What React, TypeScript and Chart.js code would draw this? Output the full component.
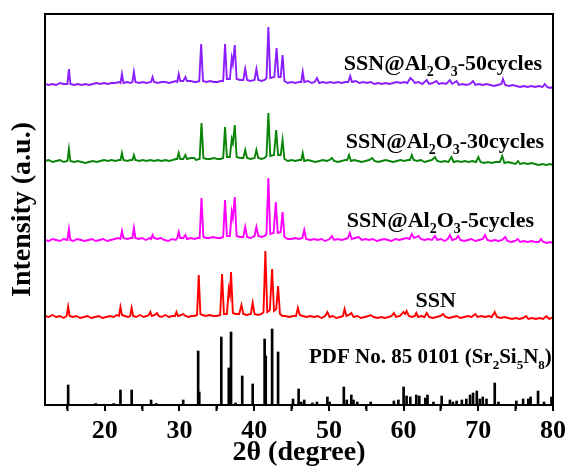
import { useEffect, useRef } from 'react';
import { Chart, registerables } from 'chart.js';

Chart.register(...registerables);

const FONT = '"Liberation Serif", "Times New Roman", serif';
const X_MIN = 12;
const X_MAX = 80;
const Y_MAX = 391;
const X_MAJOR = [20, 30, 40, 50, 60, 70, 80];
const X_MINOR = [15, 25, 35, 45, 55, 65, 75];

// [2θ, intensity above the trace's own baseline] (a.u.)
const SSN: [number, number][] = [
  [12, 1], [12.5, 0], [13, 2], [13.5, 0], [14, 1], [14.5, -1], [14.9, 1], [15.1, 10.5], [15.3, 1], [15.7, 0],
  [16.2, 1], [16.7, -1], [17.2, 0], [17.7, 1], [18.2, -1], [18.7, 0], [19.2, 1], [19.7, -1], [20.2, 0], [20.7, 1],
  [21.2, 0], [21.6, 2], [21.9, 1], [22.1, 10], [22.3, 2], [22.7, 1], [23.1, 0], [23.4, 1], [23.6, 9], [23.8, 1],
  [24.2, 0], [24.7, 2], [25.2, 0], [25.6, 1], [25.9, 2], [26.1, 5], [26.3, 1], [26.7, 2], [27.0, 4], [27.2, 1],
  [27.6, 0], [28.1, 2], [28.6, 0], [29.0, 1], [29.4, 1], [29.6, 5], [29.8, 1], [30.2, 2], [30.5, 3], [30.8, 1],
  [31.2, 0], [31.6, 1], [32.0, 1], [32.35, 2], [32.58, 42], [32.8, 3], [33.1, 2], [33.5, 1], [34.0, 2], [34.5, 1],
  [35.0, 1], [35.45, 2], [35.7, 43], [35.95, 3], [36.35, 3], [36.6, 28], [36.75, 22], [36.9, 45], [37.15, 4], [37.5, 3],
  [38.0, 3], [38.3, 12], [38.55, 3], [39.0, 2], [39.55, 3], [39.8, 14], [40.05, 3], [40.5, 2], [41.0, 3], [41.25, 5],
  [41.5, 66], [41.75, 5], [42.1, 7], [42.4, 48], [42.65, 6], [42.95, 8], [43.2, 31], [43.45, 3], [43.8, 1], [44.2, 1],
  [44.7, 0], [45.2, 1], [45.6, 1], [45.85, 9], [46.1, 2], [46.5, 1], [47.0, 0], [47.5, 1], [48.0, 0], [48.5, 1],
  [49.0, -1], [49.5, 1], [49.8, 5], [50.1, 0], [50.5, 1], [51.0, -1], [51.5, 0], [51.9, 1], [52.1, 8], [52.35, 1],
  [52.7, 2], [53.0, 4], [53.3, 0], [53.8, 1], [54.3, -1], [54.8, 0], [55.3, 1], [55.6, 2], [56.0, 0], [56.5, -1],
  [57.0, 0], [57.5, -1], [58.0, 0], [58.4, 1], [58.7, 4], [59.0, 0], [59.5, 1], [60.0, 5], [60.2, 3], [60.4, 6],
  [60.7, 1], [61.1, 0], [61.5, 1], [61.7, 4], [61.95, 0], [62.4, 1], [62.8, 0], [63.1, 4], [63.4, 0], [63.9, -1],
  [64.4, 0], [64.9, 1], [65.3, 3], [65.6, 0], [66.1, -1], [66.6, 0], [67.1, 1], [67.6, -1], [68.1, 0], [68.6, 1],
  [69.1, 0], [69.6, 3], [69.9, 0], [70.4, 1], [70.9, 0], [71.4, 1], [71.8, 0], [72.2, 5], [72.5, 0], [73.0, -1],
  [73.5, 0], [74.0, -1], [74.5, -2], [75.0, -1], [75.5, -2], [76.0, -1], [76.4, 1], [76.7, -2], [77.2, -1], [77.7, -2],
  [78.2, -1], [78.7, -2], [79.1, 1], [79.5, -2], [80.0, 0],
];

const C5: [number, number][] = [
  [12, 0], [12.5, -1], [13, 1], [13.5, 0], [14, -1], [14.5, 1], [15.0, 0], [15.2, 11], [15.4, 0], [15.8, -1],
  [16.3, 1], [16.8, 0], [17.3, -1], [17.8, 0], [18.3, 1], [18.8, -1], [19.3, 0], [19.8, 1], [20.3, -1], [20.8, 0],
  [21.3, 1], [21.8, 2], [22.1, 1], [22.3, 9], [22.5, 2], [23.0, 1], [23.5, 2], [23.7, 2], [23.9, 12], [24.1, 2],
  [24.5, 1], [25.0, 2], [25.5, 0], [26.0, 2], [26.2, 1], [26.4, 5], [26.6, 2], [27.0, 1], [27.5, 2], [28.0, 0],
  [28.5, -1], [29.0, 1], [29.5, 0], [29.7, 2], [29.9, 8], [30.1, 2], [30.5, 2], [30.8, 5], [31.0, 1], [31.5, 2],
  [32.0, 1], [32.4, 2], [32.7, 2], [32.95, 42], [33.2, 3], [33.6, 2], [34.0, 2], [34.5, 3], [35.0, 2], [35.5, 2],
  [35.85, 3], [36.1, 40], [36.35, 4], [36.75, 4], [37.0, 28], [37.15, 22], [37.4, 43], [37.65, 4], [38.1, 3], [38.55, 3],
  [38.8, 13], [39.05, 3], [39.5, 2], [40.05, 4], [40.3, 13], [40.55, 4], [41.0, 3], [41.4, 4], [41.65, 6], [41.9, 62],
  [42.15, 6], [42.6, 7], [42.9, 38], [43.15, 7], [43.55, 8], [43.8, 28], [44.05, 3], [44.5, 1], [45.0, 1], [45.5, 2],
  [46.0, 1], [46.45, 2], [46.7, 10], [46.95, 1], [47.5, 0], [48.0, 1], [48.5, 0], [49.0, 1], [49.5, -1], [50.1, 1],
  [50.4, 4], [50.7, 0], [51.2, 1], [51.7, 0], [52.2, 1], [52.55, 2], [52.8, 7], [53.05, 1], [53.5, 2], [54.0, 3],
  [54.4, 0], [54.9, 1], [55.4, 0], [55.9, 1], [56.4, -1], [56.9, 0], [57.4, 1], [57.9, 0], [58.4, -1], [58.9, 1],
  [59.4, 0], [59.9, 1], [60.4, 2], [60.8, 1], [61.1, 6], [61.4, 2], [62.0, 4], [62.3, 1], [62.8, 0], [63.3, 1],
  [63.8, 0], [64.2, 4], [64.5, 0], [65.0, 1], [65.5, -1], [65.9, 1], [66.2, 5], [66.5, 0], [67.0, 1], [67.3, 4],
  [67.6, 0], [68.1, -1], [68.6, 0], [69.1, 1], [69.6, -1], [70.1, 0], [70.6, 1], [70.9, 5], [71.2, 0], [71.7, -1],
  [72.2, 0], [72.7, -1], [73.2, 0], [73.6, 3], [73.9, -1], [74.4, -2], [74.9, -1], [75.3, 1], [75.6, -2], [76.1, -1],
  [76.6, -2], [77.1, -1], [77.6, -2], [78.1, -2], [78.4, 1], [78.7, -2], [79.2, -3], [79.6, -2], [80.0, -3],
];

const C30: [number, number][] = [
  [12, 0], [12.5, 1], [13, -1], [13.5, 0], [14, 1], [14.5, -1], [15.0, 0], [15.2, 12], [15.4, 0], [15.9, -1],
  [16.4, 0], [16.9, -1], [17.4, -2], [17.9, -1], [18.4, 0], [18.9, -1], [19.4, 0], [19.9, 1], [20.4, 0], [20.9, 1],
  [21.4, 0], [21.9, 1], [22.1, 1], [22.3, 8], [22.5, 1], [23.0, 0], [23.5, 1], [23.7, 1], [23.9, 6], [24.1, 1],
  [24.6, 0], [25.1, 1], [25.6, 0], [26.1, 1], [26.6, 0], [27.1, 1], [27.6, 0], [28.1, 1], [28.6, 0], [29.1, 1],
  [29.5, 2], [29.7, 2], [29.9, 8], [30.1, 2], [30.5, 2], [30.8, 6], [31.0, 2], [31.5, 3], [32.0, 3], [32.2, 1],
  [32.7, 2], [32.95, 38], [33.2, 3], [33.6, 2], [34.1, 2], [34.6, 3], [35.1, 2], [35.5, 2], [35.85, 3], [36.1, 34],
  [36.35, 4], [36.75, 4], [37.0, 22], [37.15, 18], [37.4, 36], [37.65, 4], [38.1, 3], [38.55, 3], [38.8, 11], [39.05, 3],
  [39.5, 2], [40.05, 3], [40.3, 11], [40.55, 3], [41.0, 2], [41.4, 3], [41.65, 5], [41.9, 48], [42.15, 5], [42.65, 6],
  [42.95, 31], [43.2, 6], [43.55, 6], [43.8, 21], [44.05, 2], [44.5, 0], [45.0, 1], [45.5, 0], [46.0, 1], [46.3, 1],
  [46.5, 8], [46.7, 0], [47.2, 1], [47.7, 0], [48.2, -1], [48.7, 0], [49.2, 1], [49.7, 0], [50.1, 1], [50.4, 3],
  [50.7, 0], [51.2, -1], [51.7, 0], [52.2, 1], [52.45, 1], [52.7, 6], [52.95, 0], [53.4, 1], [53.9, 0], [54.4, -1],
  [54.9, 0], [55.4, 1], [55.8, 3], [56.1, 0], [56.6, -1], [57.1, 0], [57.6, 1], [58.1, 0], [58.6, -1], [59.1, 0],
  [59.6, 1], [60.1, 0], [60.6, 1], [60.85, 1], [61.1, 6], [61.35, 1], [61.8, 0], [62.3, 1], [62.8, -1], [63.3, 0],
  [63.8, 1], [64.2, 4], [64.5, 0], [65.0, -1], [65.5, 0], [66.0, -1], [66.4, 4], [66.7, -1], [67.2, 0], [67.7, -1],
  [68.2, 0], [68.7, -1], [69.2, 0], [69.7, -1], [70.0, 4], [70.3, -1], [70.8, -2], [71.3, -1], [71.8, -2], [72.3, -1],
  [72.9, -1], [73.2, 5], [73.5, -2], [74.0, -1], [74.5, -2], [75.0, -3], [75.3, 0], [75.6, -3], [76.1, -2], [76.6, -3],
  [77.1, -2], [77.6, -3], [78.1, -4], [78.6, -3], [79.1, -4], [79.6, -3], [80.0, -4],
];

const C50: [number, number][] = [
  [12, 0], [12.5, -1], [13, 0], [13.5, -1], [14, 1], [14.5, 0], [15.0, 0], [15.2, 15], [15.4, 0], [15.9, -1],
  [16.4, 0], [16.9, -1], [17.4, 0], [17.9, -1], [18.4, 0], [18.9, 1], [19.4, 0], [19.9, 1], [20.4, 0], [20.9, 1],
  [21.4, 1], [21.9, 2], [22.1, 1], [22.3, 10], [22.5, 1], [23.0, 2], [23.5, 1], [23.7, 2], [23.9, 12], [24.1, 2],
  [24.6, 1], [25.1, 2], [25.6, 1], [26.2, 2], [26.4, 7], [26.6, 2], [27.1, 1], [27.6, 2], [28.1, 2], [28.6, 1],
  [29.1, 2], [29.5, 3], [29.7, 2], [29.9, 10], [30.1, 3], [30.5, 3], [30.8, 7], [31.0, 3], [31.5, 3], [32.0, 2],
  [32.3, 2], [32.65, 3], [32.9, 40], [33.15, 3], [33.6, 2], [34.1, 3], [34.6, 2], [35.1, 2], [35.5, 3], [35.85, 3],
  [36.1, 40], [36.35, 5], [36.75, 5], [37.0, 26], [37.15, 20], [37.4, 39], [37.65, 5], [38.1, 4], [38.55, 4], [38.8, 15],
  [39.05, 4], [39.5, 3], [40.05, 4], [40.3, 15], [40.55, 4], [41.0, 3], [41.4, 4], [41.65, 6], [41.9, 57], [42.15, 6],
  [42.7, 7], [43.0, 36], [43.25, 7], [43.55, 7], [43.8, 29], [44.05, 3], [44.5, 1], [45.0, 2], [45.5, 1], [46.0, 2],
  [46.3, 2], [46.5, 12], [46.7, 2], [47.2, 3], [47.7, 1], [48.1, 2], [48.4, 6], [48.7, 1], [49.2, 2], [49.7, 1],
  [50.2, 2], [50.7, 1], [51.2, 2], [51.7, 1], [52.2, 2], [52.6, 2], [52.85, 8], [53.1, 2], [53.6, 3], [54.1, 1],
  [54.6, 2], [55.1, 1], [55.6, 2], [56.1, 0], [56.6, 1], [57.1, 0], [57.6, 1], [58.1, 0], [58.6, 1], [59.1, 2],
  [59.6, 1], [60.1, 2], [60.5, 1], [60.9, 6], [61.2, 4], [61.5, 1], [62.0, 2], [62.5, 0], [63.1, 4], [63.4, 0],
  [63.9, 1], [64.4, 3], [64.7, 0], [65.2, 1], [65.7, 0], [66.2, 4], [66.5, 0], [67.1, 3], [67.4, -1], [67.9, 0],
  [68.4, -1], [68.9, 0], [69.3, 3], [69.6, -1], [70.1, 0], [70.6, -1], [71.1, 0], [71.6, -1], [72.1, -2], [72.6, -1],
  [73.1, 0], [73.3, 5], [73.6, -1], [74.1, -2], [74.6, -1], [75.1, -2], [75.6, -3], [76.1, -2], [76.6, -3], [77.1, -2],
  [77.6, -3], [78.1, -2], [78.6, -3], [78.9, 0], [79.2, -3], [79.6, -4], [80.0, -3],
];

// PDF No. 85 0101 reference lines: [2θ, intensity]
const PDF: [number, number][] = [
  [15.1, 20], [18.8, 1.5], [21.2, 1.5], [22.1, 15], [23.6, 15], [26.2, 5], [26.9, 1.5], [30.5, 5], [32.5, 54],
  [32.65, 13], [35.6, 68], [36.6, 37], [36.9, 73], [37.5, 2], [38.4, 29], [39.8, 21], [41.4, 66], [41.55, 49],
  [42.4, 76], [43.2, 53], [45.2, 6], [45.95, 16], [46.3, 3], [46.7, 5], [47.8, 2], [48.4, 3], [49.8, 8], [50.1, 3],
  [52.0, 18], [52.4, 5], [53.0, 10], [53.3, 5], [53.8, 3], [55.6, 3], [58.7, 4], [59.3, 5], [60.0, 18], [60.4, 9],
  [60.9, 8], [61.7, 10], [62.1, 9], [62.9, 7], [63.2, 10], [64.0, 3], [65.1, 9], [66.2, 5], [66.6, 3], [67.1, 4],
  [67.8, 5], [68.4, 6], [68.9, 10], [69.3, 12], [69.8, 14], [70.2, 6], [70.6, 8], [71.1, 6], [72.2, 22], [72.7, 3],
  [75.1, 4], [76.0, 6], [76.7, 6], [77.0, 8], [78.0, 14], [78.8, 3], [79.8, 8],
];

type Part = [string, boolean?];
const LABELS: { parts: Part[]; x: number; y: number; size: number }[] = [
  { parts: [['SSN@Al'], ['2', true], ['O'], ['3', true], ['-50cycles']], x: 52.0, y: 335, size: 22 },
  { parts: [['SSN@Al'], ['2', true], ['O'], ['3', true], ['-30cycles']], x: 52.27, y: 257, size: 22 },
  { parts: [['SSN@Al'], ['2', true], ['O'], ['3', true], ['-5cycles']], x: 52.4, y: 178, size: 22 },
  { parts: [['SSN']], x: 61.6, y: 98, size: 22 },
  { parts: [['PDF No. 85 0101 (Sr'], ['2', true], ['Si'], ['5', true], ['N'], ['8', true], [')']], x: 47.33, y: 42, size: 21 },
];

const toPoints = (arr: [number, number][], base: number) => arr.map(([x, y]) => ({ x, y: y + base }));

const decorPlugin = {
  id: 'decor',
  afterDatasetsDraw(chart: any) {
    const { ctx, chartArea, scales } = chart;
    const xs = scales.x;
    const ys = scales.y;
    ctx.save();
    ctx.strokeStyle = '#000';
    ctx.lineWidth = 2;
    // major and minor ticks (outward)
    const tick = (v: number, len: number) => {
      const px = Math.round(xs.getPixelForValue(v));
      ctx.beginPath();
      ctx.moveTo(px, chartArea.bottom);
      ctx.lineTo(px, chartArea.bottom + len);
      ctx.stroke();
    };
    X_MAJOR.forEach((v) => tick(v, 6));
    X_MINOR.forEach((v) => tick(v, 4));
    // frame
    ctx.strokeRect(chartArea.left, chartArea.top, chartArea.right - chartArea.left, chartArea.bottom - chartArea.top);
    // labels
    ctx.fillStyle = '#000';
    ctx.textBaseline = 'alphabetic';
    ctx.textAlign = 'left';
    LABELS.forEach((lab) => {
      let px = xs.getPixelForValue(lab.x);
      const py = ys.getPixelForValue(lab.y);
      lab.parts.forEach(([t, sub]) => {
        const size = sub ? Math.round(lab.size * 0.62) : lab.size;
        ctx.font = `bold ${size}px ${FONT}`;
        ctx.fillText(t, px, sub ? py + 6 : py);
        px += ctx.measureText(t).width;
      });
    });
    ctx.restore();
  },
};

export default function App() {
  const ref = useRef<HTMLCanvasElement | null>(null);
  useEffect(() => {
    if (!ref.current) return;
    const line = (data: [number, number][], base: number, color: string) => ({
      type: 'line' as const,
      data: toPoints(data, base),
      borderColor: color,
      borderWidth: 1.9,
      pointRadius: 0,
      tension: 0,
      fill: false,
    });
    const chart = new Chart(ref.current, {
      type: 'line',
      data: {
        datasets: [
          line(C50, 321, '#8A1EFF'),
          line(C30, 244, '#0A850A'),
          line(C5, 165, '#FF00FF'),
          line(SSN, 88, '#FF0000'),
          {
            type: 'bar' as const,
            data: PDF.map(([x, y]) => ({ x, y })),
            backgroundColor: '#000',
            borderWidth: 0,
            barThickness: 2,
          } as any,
        ],
      },
      options: {
        animation: false,
        responsive: false,
        devicePixelRatio: 1,
        layout: { padding: { top: 14, right: 14, left: 0, bottom: 0 } },
        plugins: { legend: { display: false }, tooltip: { enabled: false } },
        scales: {
          x: {
            type: 'linear',
            min: X_MIN,
            max: X_MAX,
            offset: false,
            afterBuildTicks: (s: any) => {
              s.ticks = X_MAJOR.map((v) => ({ value: v }));
            },
            afterFit: (s: any) => {
              s.height = 62;
            },
            ticks: {
              color: '#000',
              font: { family: FONT, size: 26, weight: 'bold' },
              padding: 5,
              maxRotation: 0,
              autoSkip: false,
            },
            grid: {
              display: true,
              drawOnChartArea: false,
              drawTicks: true,
              tickLength: 6,
              tickWidth: 2,
              tickColor: '#000',
            },
            border: { display: false },
            title: {
              display: true,
              text: '2θ (degree)',
              color: '#000',
              font: { family: FONT, size: 28, weight: 'bold', lineHeight: 1 },
              padding: { top: 0, bottom: 0 },
            },
          },
          y: {
            type: 'linear',
            min: 0,
            max: Y_MAX,
            afterFit: (s: any) => {
              s.width = 45;
            },
            ticks: { display: false },
            grid: { display: false },
            border: { display: false },
            title: {
              display: true,
              text: 'Intensity (a.u.)',
              color: '#000',
              font: { family: FONT, size: 28, weight: 'bold', lineHeight: 1 },
              padding: { top: 9, bottom: 0 },
            },
          },
        },
      } as any,
      plugins: [decorPlugin],
    });
    return () => chart.destroy();
  }, []);
  return (
    <div style={{ position: 'absolute', left: 0, top: 0, width: 571, height: 467, background: '#fff' }}>
      <canvas ref={ref} width={571} height={467} style={{ width: 571, height: 467 }} />
    </div>
  );
}
